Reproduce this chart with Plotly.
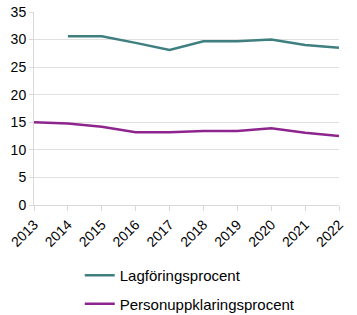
import plotly.graph_objects as go

years = ["2013", "2014", "2015", "2016", "2017", "2018", "2019", "2020", "2021", "2022"]
lagforing = [None, 30.6, 30.6, 29.4, 28.1, 29.7, 29.7, 30.0, 29.0, 28.5]
personuppklaring = [15.0, 14.8, 14.2, 13.2, 13.2, 13.4, 13.4, 13.9, 13.1, 12.5]

FONT = "Liberation Sans Narrow, Liberation Sans, sans-serif"

fig = go.Figure()
fig.add_trace(go.Scatter(x=years, y=lagforing, mode="lines", name="Lagföringsprocent",
                         line=dict(color="#3F7F7F", width=2.5), legendgroup="a"))
fig.add_trace(go.Scatter(x=years, y=personuppklaring, mode="lines", name="Personuppklaringsprocent",
                         line=dict(color="#8E258F", width=2.5), legendgroup="b"))

fig.update_layout(
    width=357, height=315,
    margin=dict(l=34, r=18, t=12, b=110),
    paper_bgcolor="white", plot_bgcolor="white",
    font=dict(family=FONT, size=14, color="#000000"),
    showlegend=True,
    legend=dict(orientation="v", x=0.15, xanchor="left",
                yref="container", y=0.178, yanchor="top",
                font=dict(family=FONT, size=15), tracegroupgap=6,
                traceorder="grouped", bgcolor="rgba(0,0,0,0)", borderwidth=0),
    xaxis=dict(type="category", showgrid=False, showline=True, linecolor="#d9d9d9",
               ticks="outside", ticklen=5, tickcolor="#d9d9d9", tickangle=-45,
               tickfont=dict(family=FONT, size=14), range=[0, 9], automargin=False),
    yaxis=dict(range=[0, 35], dtick=5, showgrid=True, gridcolor="#e0e0e0",
               showline=True, linecolor="#d9d9d9", ticks="outside", ticklen=4,
               tickcolor="#d9d9d9", zeroline=False, tickfont=dict(family=FONT, size=14),
               automargin=False),
)

fig.write_html("out.html")
